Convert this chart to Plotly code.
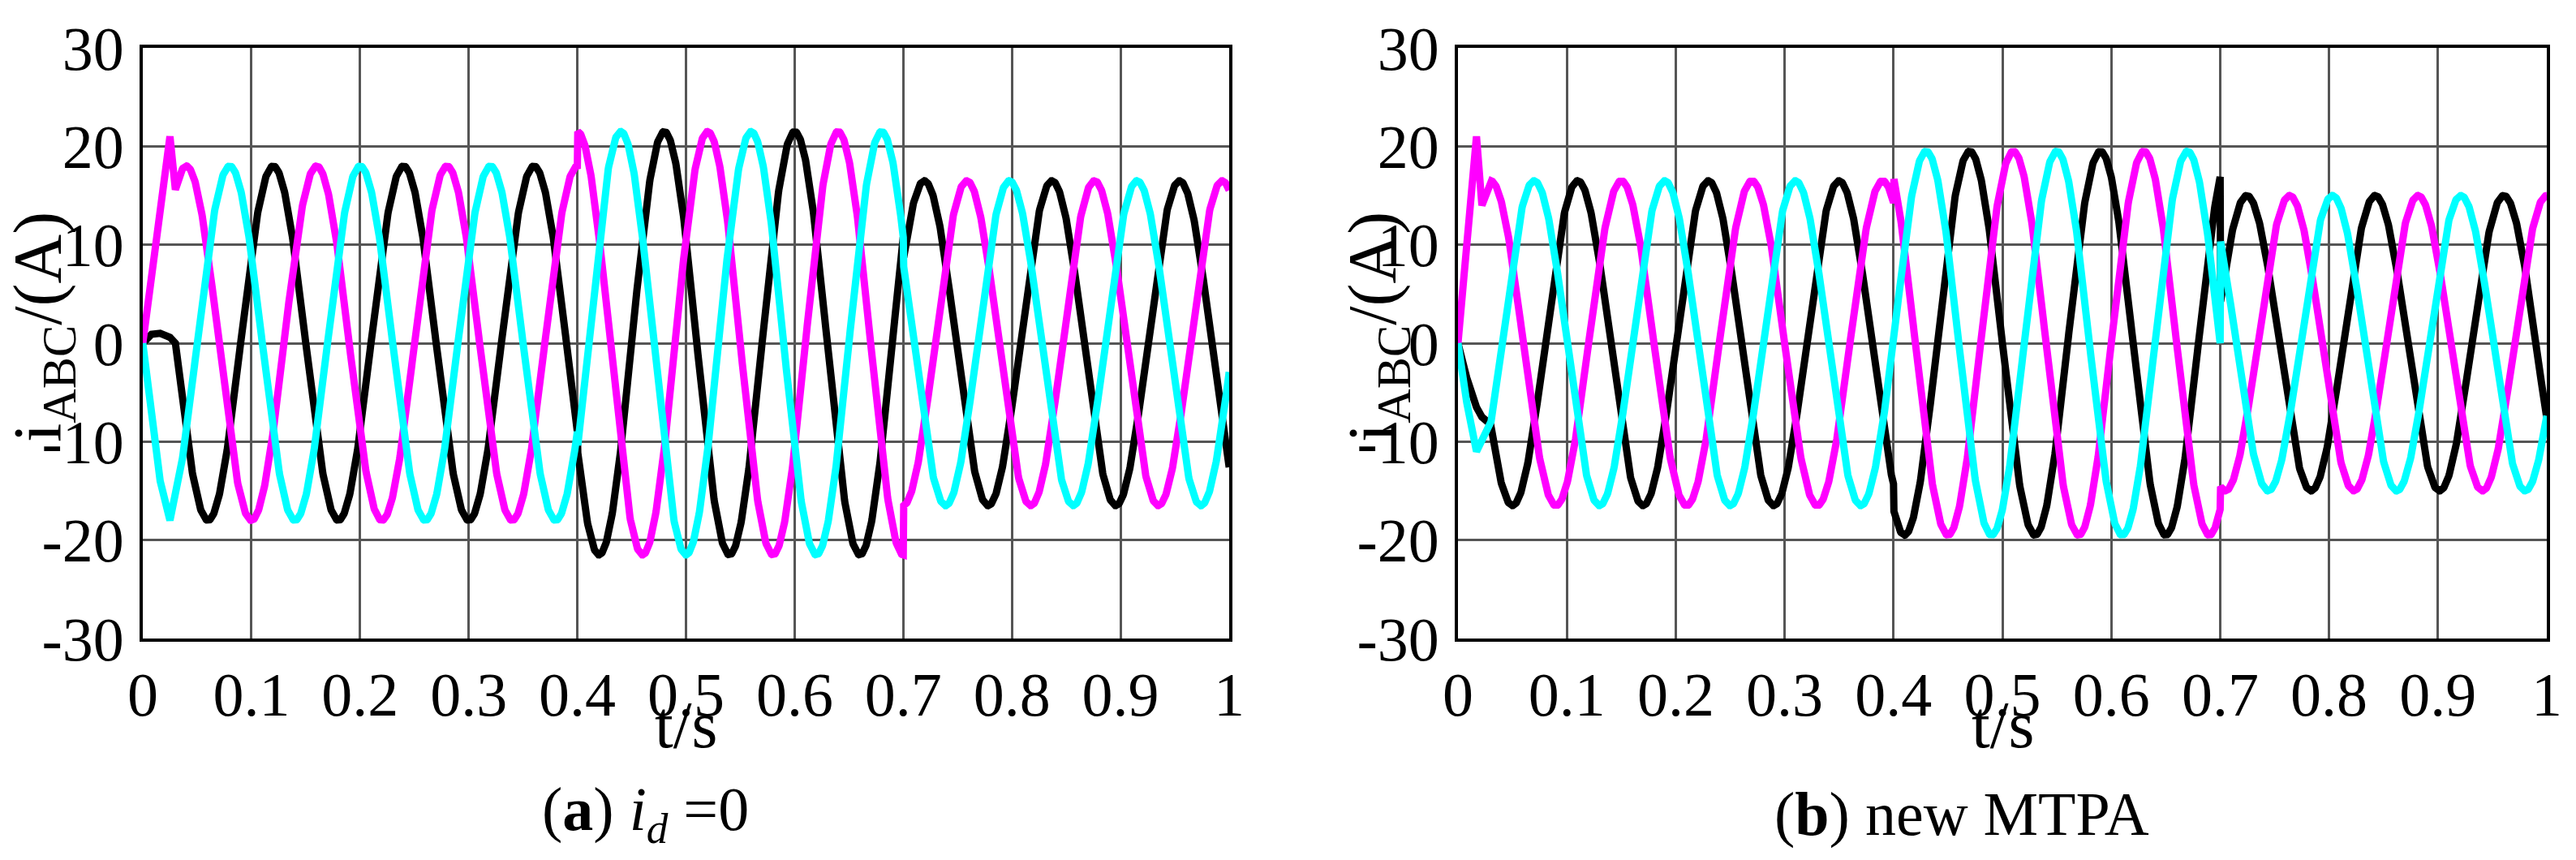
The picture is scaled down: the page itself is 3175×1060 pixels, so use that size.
import numpy as np
import plotly.graph_objects as go

# --- values ---
# each panel: segments of steady three-phase current (start time, end time,
# amplitude, time of rising zero crossing of phase A, period)
seg_start = [0.03, 0.4, 0.7]
seg_end = [0.4, 0.7, 1.0]

amp_a = [18.0, 21.5, 16.5]
zero_a = [0.09, 0.45, 0.69]
period_a = [0.12, 0.12, 0.1175]

amp_b = [16.5, 19.5, 15.0]
zero_b = [0.08, 0.44, 0.695]
period_b = [0.12, 0.12, 0.118]

# start-up transients (t < 0.03 s)
start_t_a = [0.0, 0.008, 0.016, 0.025, 0.03]
start_black_a = [0.0, 0.9, 1.0, 0.6, 0.0]
start_mag_a = [0.0, 7.0, 14.0, 21.0, 15.6]
start_cyan_a = [0.0, -7.0, -14.0, -18.0, -15.6]

start_t_b = [0.0, 0.008, 0.017, 0.022, 0.03]
start_black_b = [0.0, -3.5, -6.5, -7.5, -8.25]
start_mag_b = [0.0, 10.0, 21.0, 14.0, 16.5]
start_cyan_b = [0.0, -6.0, -11.0, -10.0, -8.25]

x_ticks = [0, 0.1, 0.2, 0.3, 0.4, 0.5, 0.6, 0.7, 0.8, 0.9, 1]
x_labels = ['0', '0.1', '0.2', '0.3', '0.4', '0.5', '0.6', '0.7', '0.8', '0.9', '1']
y_ticks = [-30, -20, -10, 0, 10, 20, 30]
y_labels = ['-30', '-20', '-10', '0', '10', '20', '30']

phase_colors = ['#000000', '#ff00ff', '#00ffff']
captions = ['(<b>a</b>) <i>i<sub>d</sub></i> =0', '(<b>b</b>) new MTPA']


def build_phases(amps, zeros, periods, st, sb, sm, sc):
  t_all = list(st)
  ph = [list(sb), list(sm), list(sc)]
  for s0, s1, A, z, T in zip(seg_start, seg_end, amps, zeros, periods):
    t = np.linspace(s0, s1, int((s1 - s0) / 0.0004) + 1)[1:]
    t_all += list(t)
    # phase A, phase B lags by T/3, phase C leads by T/3
    for k, shift in enumerate([0.0, T / 3, -T / 3]):
      ph[k] += list(A * np.sin(2 * np.pi * (t - z - shift) / T))
  return t_all, ph


fig = go.Figure()
W, H = 3175, 1060
domains = [[168 / W, 1507 / W], [1789 / W, 3131 / W]]
panels = [
  build_phases(amp_a, zero_a, period_a, start_t_a, start_black_a, start_mag_a, start_cyan_a),
  build_phases(amp_b, zero_b, period_b, start_t_b, start_black_b, start_mag_b, start_cyan_b),
]

font_fam = 'Liberation Serif, Times New Roman, serif'
for i, (t, ph) in enumerate(panels):
  xa = 'x' if i == 0 else 'x2'
  ya = 'y' if i == 0 else 'y2'
  for k in range(3):
    fig.add_trace(go.Scatter(x=t, y=ph[k], mode='lines', xaxis=xa, yaxis=ya,
                             line=dict(color=phase_colors[k], width=9), showlegend=False))
  ax = dict(domain=domains[i], range=[0, 1], tickvals=x_ticks, ticktext=x_labels,
            showgrid=True, gridcolor='#555555', gridwidth=3, showline=True, mirror=True,
            linecolor='black', linewidth=4, zeroline=False, ticks='', automargin=False,
            tickfont=dict(family=font_fam, size=76, color='black'))
  ay = dict(domain=[1 - 779 / H, 1 - 51 / H], range=[-30, 30], tickvals=y_ticks,
            ticktext=y_labels, ticklabelstandoff=4,
            showgrid=True, gridcolor='#555555', gridwidth=3, showline=True, mirror=True,
            linecolor='black', linewidth=4, zeroline=False, ticks='', automargin=False,
            tickfont=dict(family=font_fam, size=76, color='black'))
  if i == 0:
    ax['anchor'] = 'y'
    ay['anchor'] = 'x'
    fig.update_layout(xaxis=ax, yaxis=ay)
  else:
    ax['anchor'] = 'y2'
    ay['anchor'] = 'x2'
    fig.update_layout(xaxis2=ax, yaxis2=ay)

  x_center = (domains[i][0] + domains[i][1]) / 2
  fig.add_annotation(text='t/s', xref='paper', yref='paper', x=x_center, y=1 - 885 / H,
                     xanchor='center', yanchor='middle',
                     showarrow=False, font=dict(family=font_fam, size=82, color='black'))
  fig.add_annotation(text=captions[i], xref='paper', yref='paper',
                     x=x_center - 50 / W, y=1 - 995 / H, xanchor='center', yanchor='middle',
                     showarrow=False, font=dict(family=font_fam, size=76, color='black'))
  ytitle_x = 45 if i == 0 else 1690
  fig.add_annotation(text='i<sub>ABC</sub>/(A)', xref='paper', yref='paper',
                     x=ytitle_x / W, y=1 - 395 / H, textangle=-90,
                     xanchor='center', yanchor='middle',
                     showarrow=False, font=dict(family=font_fam, size=84, color='black'))

fig.update_layout(width=W, height=H, margin=dict(l=0, r=0, t=0, b=0),
                  plot_bgcolor='white', paper_bgcolor='white')
fig.write_html("out.html")
